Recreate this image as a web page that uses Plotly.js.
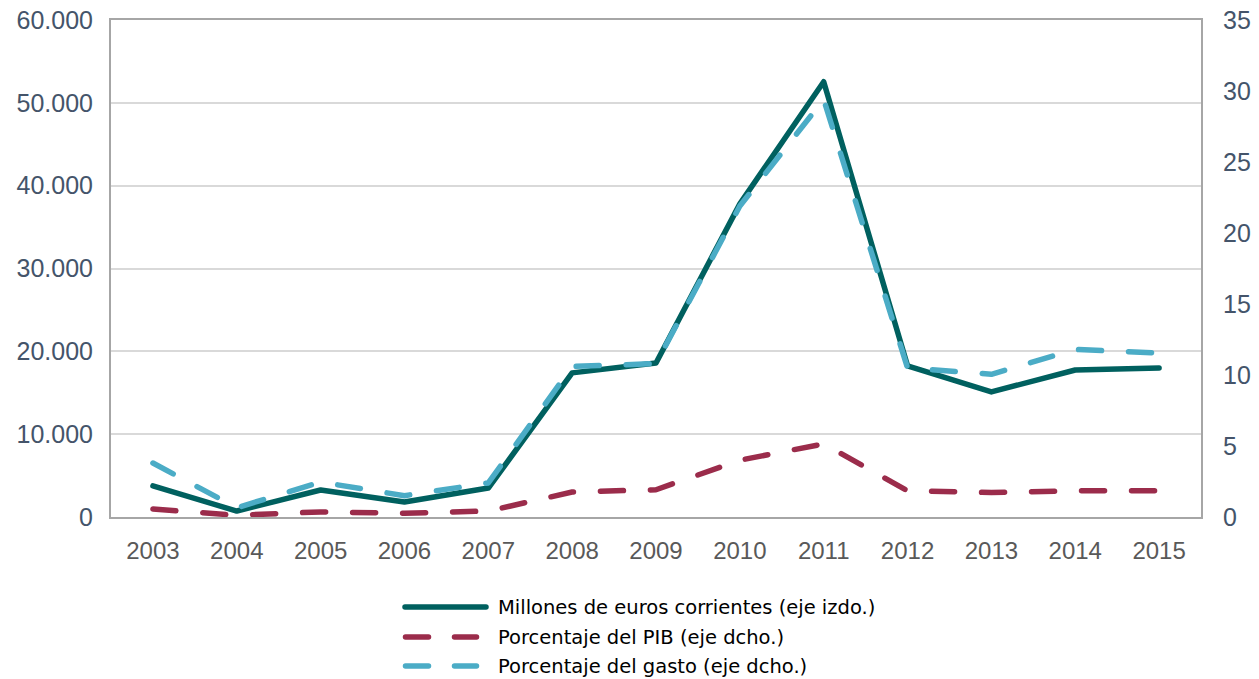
<!DOCTYPE html>
<html>
<head>
<meta charset="utf-8">
<script src="https://cdn.plot.ly/plotly-3.0.1.min.js"></script>
<style>
  html, body { margin: 0; padding: 0; background: #fff; }
  #chart { width: 1259px; height: 679px; }
  .scatterlayer path.js-line { stroke-linecap: round; stroke-linejoin: round; }
  .layer-above path, .layer-below path { stroke-linecap: round; }
</style>
</head>
<body>
<div id="chart"></div>
<script>
const years = ['2003','2004','2005','2006','2007','2008','2009','2010','2011','2012','2013','2014','2015'];
const millones = [3750, 720, 3260, 1820, 3500, 17400, 18600, 37800, 52550, 18250, 15100, 17750, 18000];
const pctPIB = [0.56, 0.12, 0.36, 0.27, 0.42, 1.76, 1.92, 4.0, 5.15, 1.85, 1.72, 1.85, 1.85];
const pctGasto = [3.8, 0.65, 2.46, 1.5, 2.4, 10.6, 10.8, 21.9, 29.4, 10.5, 10.05, 11.8, 11.55];
const seriesNames = ['Millones de euros corrientes (eje izdo.)', 'Porcentaje del PIB (eje dcho.)', 'Porcentaje del gasto (eje dcho.)'];
const leftTicks = [0, 10000, 20000, 30000, 40000, 50000, 60000];
const leftTickText = ['0', '10.000', '20.000', '30.000', '40.000', '50.000', '60.000'];
const rightTicks = [0, 5, 10, 15, 20, 25, 30, 35];

const cTeal = '#00605F', cRed = '#9B2C4B', cBlue = '#4BACC6';
const dashPat = '23px,27px';

const traces = [
  {x: years, y: pctPIB, yaxis: 'y2', type: 'scatter', mode: 'lines', name: seriesNames[1],
   line: {color: cRed, width: 5.5, dash: dashPat}, showlegend: false},
  {x: years, y: millones, yaxis: 'y', type: 'scatter', mode: 'lines', name: seriesNames[0],
   line: {color: cTeal, width: 5.5}, showlegend: false},
  {x: years, y: pctGasto, yaxis: 'y2', type: 'scatter', mode: 'lines', name: seriesNames[2],
   line: {color: cBlue, width: 5.5, dash: dashPat}, showlegend: false}
];

// custom legend (paper coordinates; plot area spans x 111..1201, y 20..517 px)
const px = v => (v - 111) / 1090;
const py = v => (517 - v) / 497;
const legY = [py(607), py(637), py(666)];
const legCol = [cTeal, cRed, cBlue];
const shapes = [];
const annotations = [];
for (let i = 0; i < 3; i++) {
  const solid = i === 0;
  shapes.push({type: 'line', xref: 'paper', yref: 'paper',
    x0: px(solid ? 405 : 405.5), x1: px(solid ? 486 : 476.5), y0: legY[i], y1: legY[i],
    line: {color: legCol[i], width: 5.5, dash: solid ? 'solid' : '23px,26px'}});
  annotations.push({xref: 'paper', yref: 'paper', x: px(496), y: legY[i], xanchor: 'left', yanchor: 'middle',
    text: seriesNames[i], showarrow: false, font: {family: 'DejaVu Sans', size: 19.5, color: '#000'}});
}

const layout = {
  width: 1259, height: 679,
  margin: {l: 111, r: 58, t: 20, b: 162},
  paper_bgcolor: '#fff', plot_bgcolor: '#fff',
  showlegend: false,
  xaxis: {
    type: 'category', range: [-0.5, 12.5],
    showgrid: false, zeroline: false,
    showline: true, mirror: true, linecolor: '#A6A6A6', linewidth: 2,
    ticks: '', ticklabelstandoff: 11,
    tickfont: {family: 'Liberation Sans', size: 24, color: '#595959'}
  },
  yaxis: {
    range: [0, 60000], tickvals: leftTicks, ticktext: leftTickText,
    showgrid: true, gridcolor: '#D9D9D9', gridwidth: 2, zeroline: false,
    showline: true, mirror: true, linecolor: '#A6A6A6', linewidth: 2,
    ticks: '', ticklabelstandoff: 11,
    tickfont: {family: 'Liberation Sans', size: 25, color: '#44546A'}
  },
  yaxis2: {
    range: [0, 35], tickvals: rightTicks, overlaying: 'y', side: 'right',
    showgrid: false, zeroline: false, showline: false,
    ticks: '', ticklabelstandoff: 21,
    tickfont: {family: 'Liberation Sans', size: 25, color: '#44546A'}
  },
  shapes: shapes,
  annotations: annotations
};

Plotly.newPlot('chart', traces, layout, {displayModeBar: false, staticPlot: true});
</script>
</body>
</html>
